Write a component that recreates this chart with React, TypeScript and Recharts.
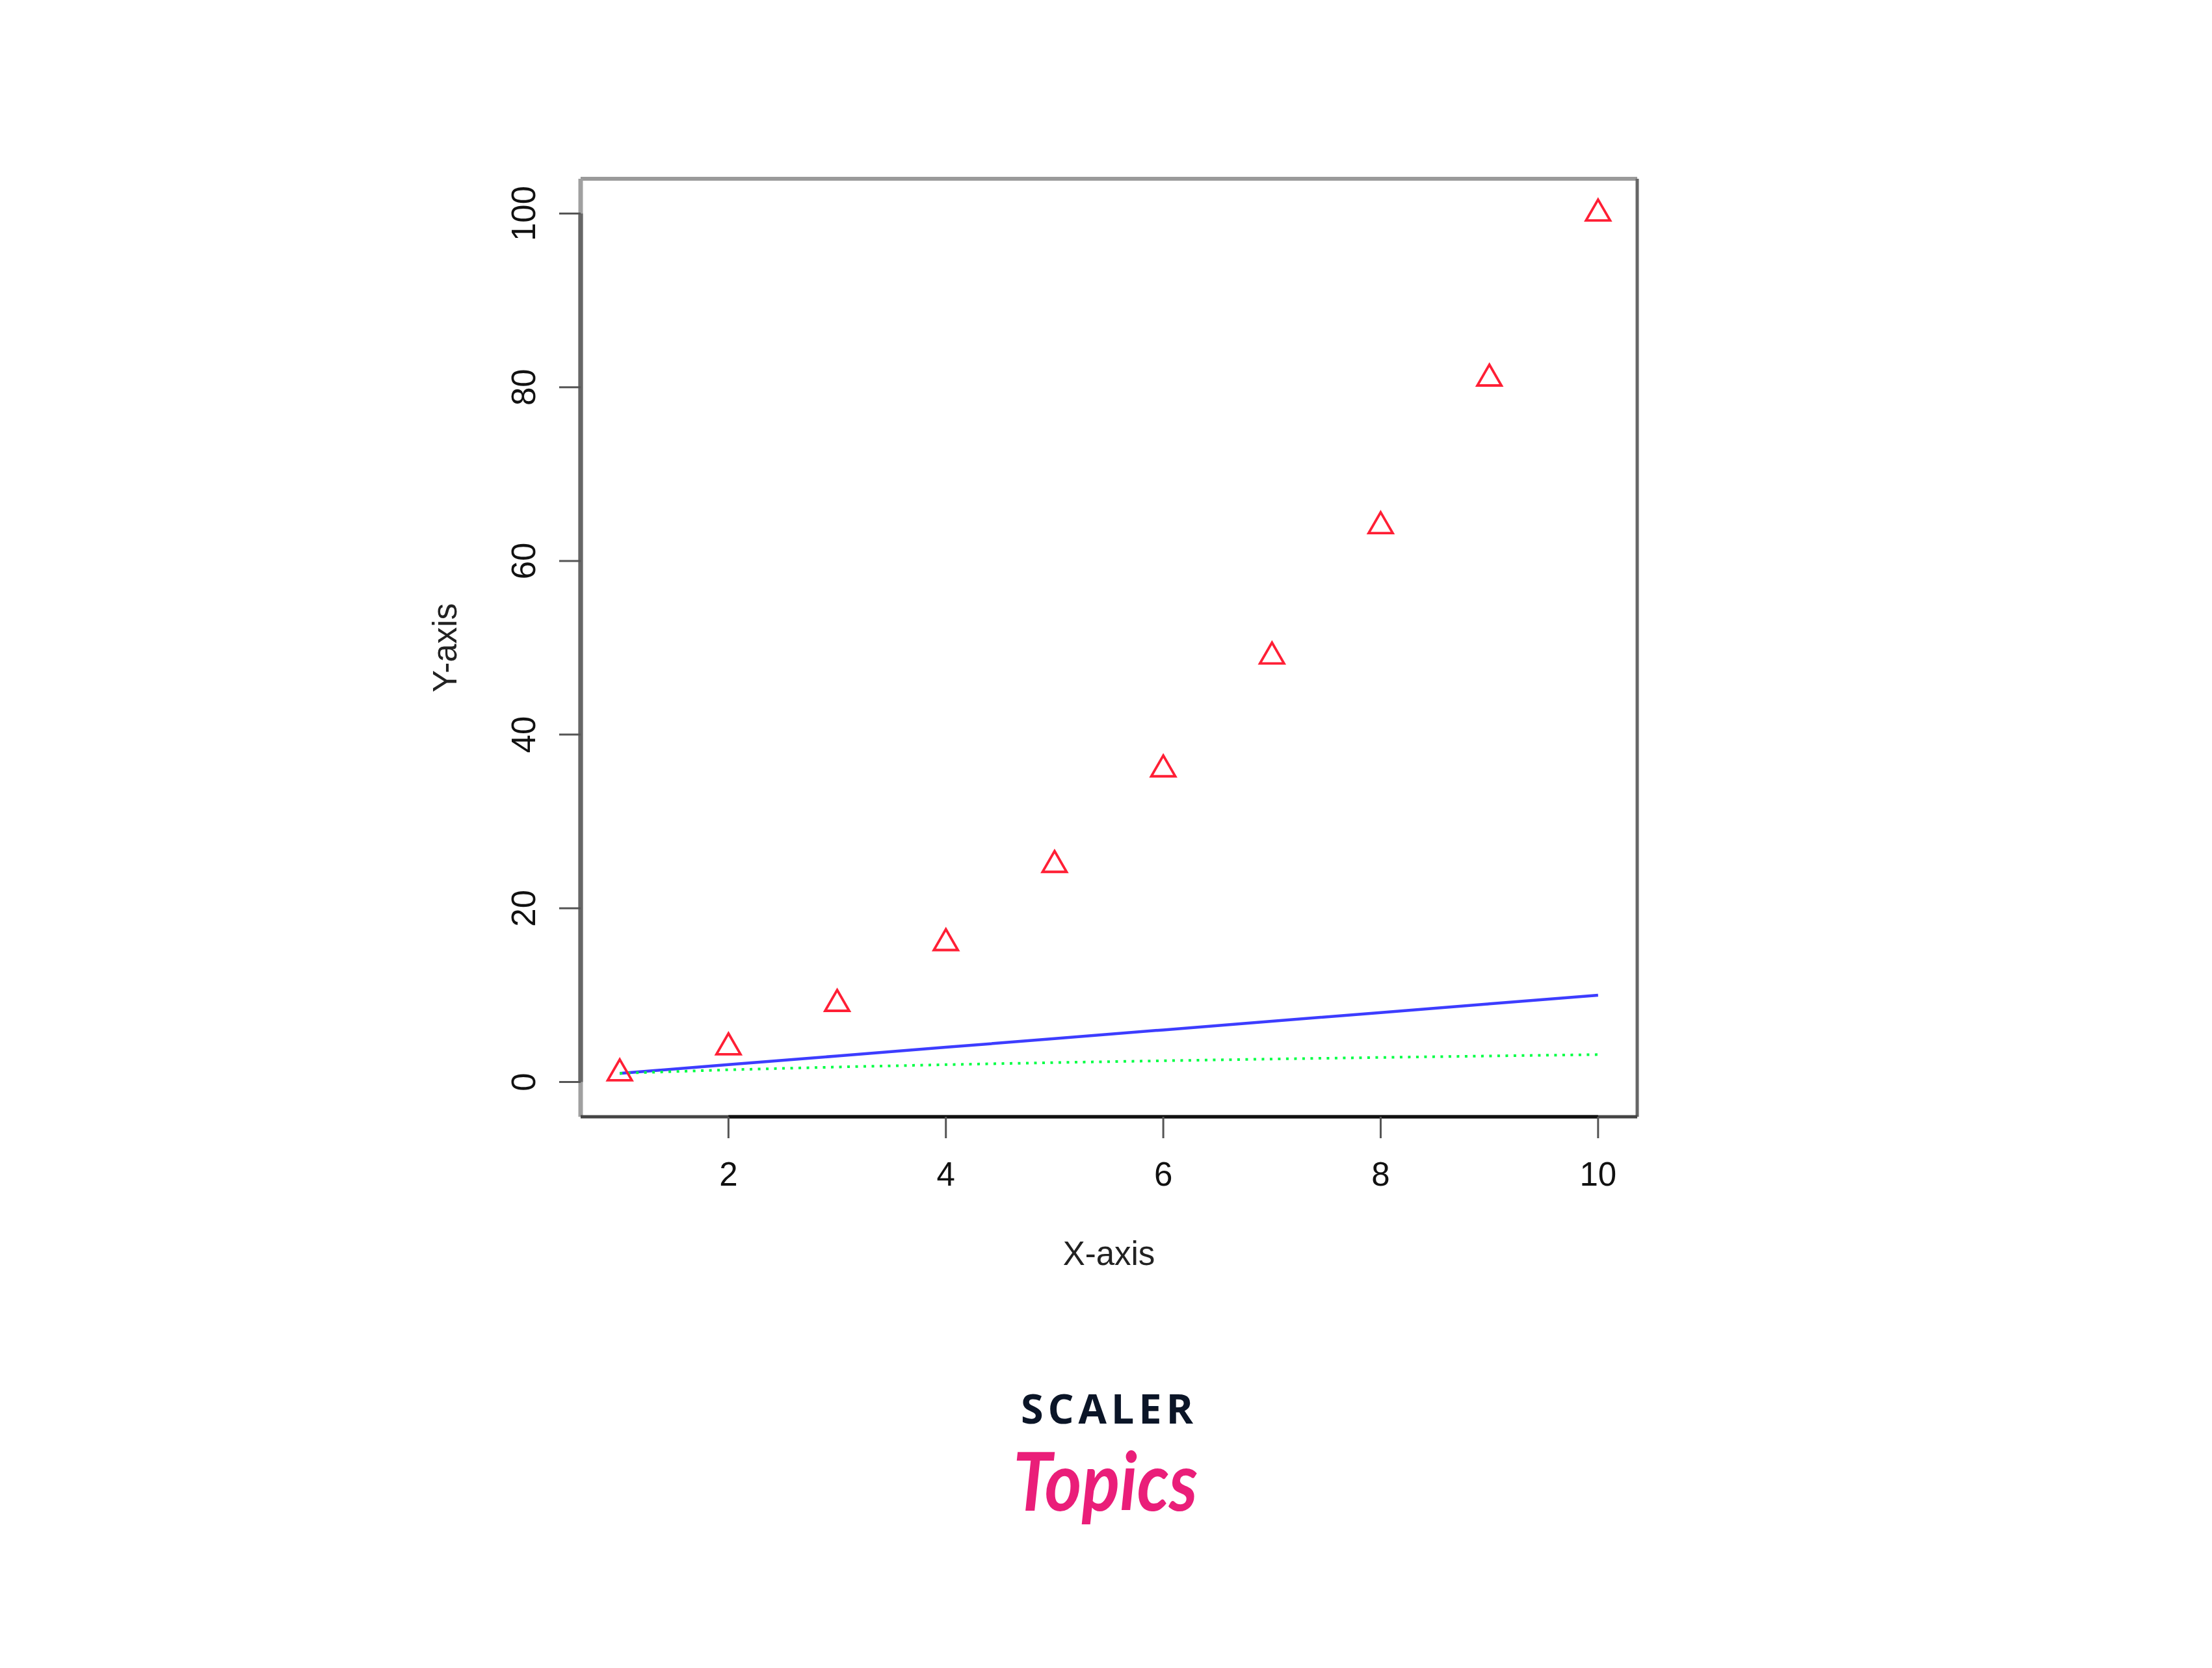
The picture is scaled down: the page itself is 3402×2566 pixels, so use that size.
import { ComposedChart, Scatter, Line, XAxis, YAxis, ReferenceLine } from 'recharts'

// values
const xs = [1, 2, 3, 4, 5, 6, 7, 8, 9, 10]
const squares = [1, 4, 9, 16, 25, 36, 49, 64, 81, 100]
const linear = [1, 2, 3, 4, 5, 6, 7, 8, 9, 10]
const roots = [1, 1.41, 1.73, 2, 2.24, 2.45, 2.65, 2.83, 3, 3.16]

const xTicks = [2, 4, 6, 8, 10]
const yTicks = [0, 20, 40, 60, 80, 100]
const xDomain = [0.64, 10.36]
const yDomain = [-4, 104]

const rows = xs.map((x, i) => ({ x, sq: squares[i], lin: linear[i], root: roots[i] }))

const FONT = '"Liberation Sans", Arial, sans-serif'

const Triangle = (p: any) => {
  const { cx, cy } = p
  if (cx == null || cy == null) return null
  const pts = `${cx},${cy - 21.3} ${cx + 18.5},${cy + 10.7} ${cx - 18.5},${cy + 10.7}`
  return <polygon points={pts} fill="none" stroke="#ff1f35" strokeWidth={3.8} strokeLinejoin="miter" />
}

const XTick = ({ x, y, payload }: any) => (
  <text x={x} y={y} dy="0.71em" textAnchor="middle" fontSize={51} fontFamily={FONT} fill="#111">{payload.value}</text>
)

const YTick = ({ x, y, payload }: any) => (
  <text x={x} y={y} transform={`rotate(-90 ${x} ${y})`} textAnchor="middle" fontSize={51} fontFamily={FONT} fill="#111">{payload.value}</text>
)

export default function App() {
  return (
    <div style={{ position: 'absolute', left: 0, top: 0, width: 3402, height: 2566, background: '#fff' }}>
      <ComposedChart width={3402} height={2566} data={rows} margin={{ top: 275, right: 884, bottom: 748, left: 793 }}>
        <XAxis
          dataKey="x" type="number" domain={xDomain} ticks={xTicks} allowDataOverflow
          height={100} axisLine={false} tickSize={33} tickMargin={37}
          tickLine={{ stroke: '#555', strokeWidth: 3 }} tick={<XTick />}
          label={{
            content: ({ viewBox }: any) => (
              <text x={viewBox.x + viewBox.width / 2} y={viewBox.y + 228} textAnchor="middle" fontSize={51} fontFamily={FONT} fill="#222">X-axis</text>
            ),
          }}
        />
        <YAxis
          type="number" domain={yDomain} ticks={yTicks} allowDataOverflow
          width={100} axisLine={false} tickSize={33} tickMargin={37}
          tickLine={{ stroke: '#555', strokeWidth: 3 }} tick={<YTick />}
          label={{
            content: ({ viewBox }: any) => {
              const lx = viewBox.x - 91
              const ly = viewBox.y + viewBox.height / 2
              return <text x={lx} y={ly} transform={`rotate(-90 ${lx} ${ly})`} textAnchor="middle" fontSize={51} fontFamily={FONT} fill="#222">Y-axis</text>
            },
          }}
        />
        {/* plot box, R style: axis spans drawn darker over the frame */}
        <ReferenceLine y={104} stroke="#9a9a9a" strokeWidth={6} ifOverflow="visible" />
        <ReferenceLine x={10.36} stroke="#666" strokeWidth={5} ifOverflow="visible" />
        <ReferenceLine x={0.64} stroke="#a0a0a0" strokeWidth={7} ifOverflow="visible" />
        <ReferenceLine segment={[{ x: 0.64, y: 0 }, { x: 0.64, y: 100 }]} stroke="#666" strokeWidth={7} ifOverflow="visible" />
        <ReferenceLine y={-4} stroke="#444" strokeWidth={5} ifOverflow="visible" />
        <ReferenceLine segment={[{ x: 2, y: -4 }, { x: 10, y: -4 }]} stroke="#111" strokeWidth={5} ifOverflow="visible" />

        <Scatter dataKey="sq" shape={Triangle} isAnimationActive={false} />
        <Line type="linear" dataKey="lin" stroke="#3d3dff" strokeWidth={4.5} dot={false} isAnimationActive={false} />
        <Line type="linear" dataKey="root" stroke="#00ff44" strokeWidth={4} strokeDasharray="4 8.5" dot={false} isAnimationActive={false} />
      </ComposedChart>

      <svg width={3402} height={2566} style={{ position: 'absolute', left: 0, top: 0, pointerEvents: 'none' }}>
        <text x={1570} y={2190} textLength={265} lengthAdjust="spacing" fontSize={63} fontWeight={700}
          fontFamily='"Open Sans", sans-serif' fill="#0b1527">SCALER</text>
        <text x={1558} y={2324} textLength={284} lengthAdjust="spacingAndGlyphs" fontSize={124} fontStyle="italic" fontWeight={700}
          fontFamily='Lato, "DejaVu Serif", serif' fill="#ea1e79">Topics</text>
      </svg>
    </div>
  )
}
